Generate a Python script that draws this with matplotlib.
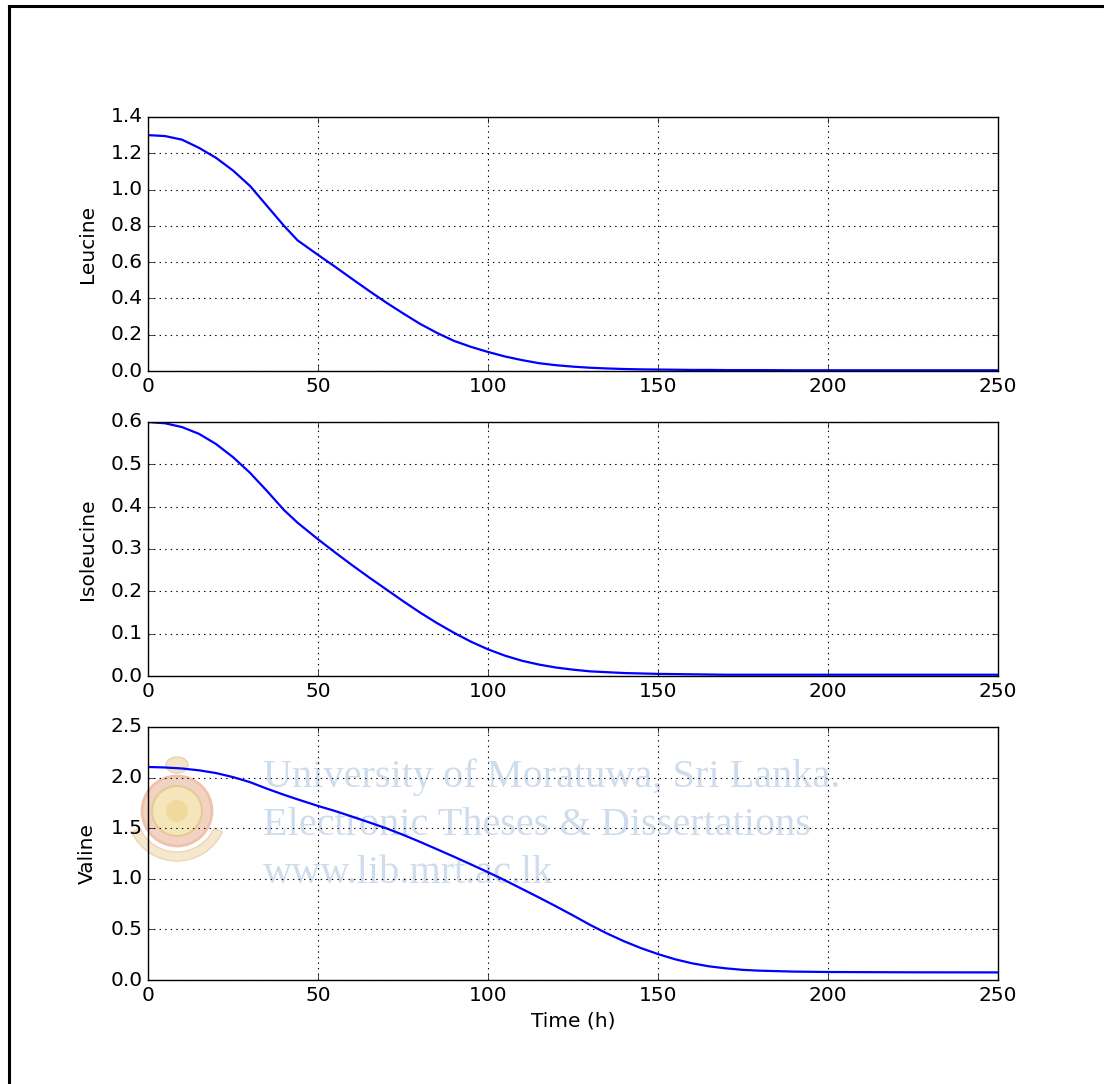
import numpy as np
import matplotlib
matplotlib.use('Agg')
import matplotlib.pyplot as plt
from matplotlib.patches import Circle, Ellipse, Wedge
from matplotlib.lines import Line2D

plt.style.use('classic')

# data
time_h = [0, 5, 10, 15, 20, 25, 30, 35, 40, 44,
          50, 55, 60, 65, 70, 75, 80, 85, 90, 95, 100, 105, 110, 115, 120,
          125, 130, 135, 140, 145, 150, 155, 160, 165, 170, 175, 180,
          190, 200, 225, 250]
leucine = [1.300, 1.295, 1.275, 1.230, 1.175, 1.105, 1.020, 0.910, 0.800, 0.720,
           0.640, 0.575, 0.508, 0.442, 0.378, 0.318, 0.260, 0.210, 0.166, 0.133,
           0.105, 0.080, 0.060, 0.043, 0.032, 0.024, 0.018, 0.014, 0.011, 0.009,
           0.008, 0.007, 0.006, 0.006, 0.005, 0.005, 0.005,
           0.004, 0.004, 0.004, 0.004]
isoleucine = [0.600, 0.597, 0.588, 0.572, 0.548, 0.517, 0.480, 0.437, 0.392, 0.362,
              0.323, 0.292, 0.262, 0.233, 0.205, 0.177, 0.150, 0.125, 0.102, 0.081,
              0.063, 0.048, 0.036, 0.027, 0.020, 0.015, 0.011, 0.009, 0.007, 0.006,
              0.005, 0.0045, 0.004, 0.0035, 0.003, 0.003, 0.003,
              0.003, 0.003, 0.003, 0.003]
valine = [2.105, 2.100, 2.090, 2.072, 2.045, 2.005, 1.955, 1.890, 1.830, 1.785,
          1.720, 1.670, 1.615, 1.558, 1.500, 1.435, 1.365, 1.292, 1.218, 1.142,
          1.065, 0.985, 0.900, 0.815, 0.728, 0.638, 0.545, 0.460, 0.383, 0.315,
          0.256, 0.205, 0.165, 0.135, 0.115, 0.100, 0.092,
          0.083, 0.079, 0.076, 0.075]

series = [('Leucine', leucine, 1.4), ('Isoleucine', isoleucine, 0.6), ('Valine', valine, 2.5)]

watermark = ['University of Moratuwa, Sri Lanka.',
             'Electronic Theses & Dissertations',
             'www.lib.mrt.ac.lk']

W, H = 1104, 1084
fig = plt.figure(figsize=(W/100, H/100), dpi=100, facecolor='white')

# watermark layer, in pixel coords, behind the plots
bg = fig.add_axes([0, 0, 1, 1], zorder=-1)
bg.set_xlim(0, W)
bg.set_ylim(H, 0)
bg.axis('off')
wm_col = '#cfdcec'
for i, line in enumerate(watermark):
    bg.text(263, 787 + 48*i, line, family='Liberation Serif', fontsize=29,
            color=wm_col, ha='left', va='baseline')
# faded emblem
bg.add_patch(Circle((177, 811), 35, facecolor='#f2d3c3', edgecolor='#eec2ab', lw=2))
bg.add_patch(Circle((177, 811), 25, facecolor='#f5e5bb', edgecolor='#e8c994', lw=1.5))
bg.add_patch(Circle((177, 811), 11, facecolor='#f1d99e', edgecolor='none'))
bg.add_patch(Ellipse((177, 765), 22, 16, facecolor='#f3e4c6', edgecolor='#ead3ae', lw=1))
bg.add_patch(Wedge((177, 811), 50, 25, 155, width=9, facecolor='#f5e8cf', edgecolor='#ecd7b4', lw=1))

# frame lines at the top and left edges of the picture
fig.add_artist(Line2D([8.5/W, 8.5/W], [0, 1-6/H], transform=fig.transFigure, color='k', lw=2.2))
fig.add_artist(Line2D([8.5/W, 1], [1-6/H, 1-6/H], transform=fig.transFigure, color='k', lw=2.2))

left, width = 148/W, 850/W
tops = [117, 422, 727]
bottoms = [371, 676, 980]

for (name, vals, ymax), top, bot in zip(series, tops, bottoms):
    ax = fig.add_axes([left, 1 - bot/H, width, (bot - top)/H])
    ax.patch.set_alpha(0)
    ax.plot(time_h, vals, color='b', lw=1.6)
    ax.set_xlim(0, 250)
    ax.set_ylim(0, ymax)
    ax.grid(True, linestyle=':', color='k', lw=0.8)
    ax.tick_params(labelsize=14.5)
    ax.set_ylabel(name, fontsize=14.5)
    ax.yaxis.set_label_coords(-0.06, 0.5)

ax.set_xlabel('Time (h)', fontsize=14.5)

plt.savefig('out.png', dpi=100, facecolor='white')
